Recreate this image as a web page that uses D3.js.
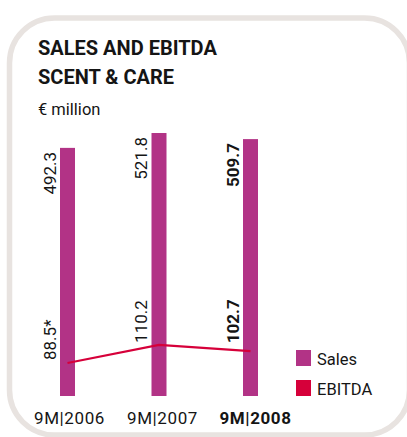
<html>
<head>
  <meta charset="UTF-8">
  <script src="https://d3js.org/d3.v7.min.js"></script>
  <style>
    body { margin: 0; background: white; }
    text { font-family: Roboto, "Liberation Sans", sans-serif; fill: #151515; }
  </style>
</head>
<body>
<svg id="chart"></svg>
<script>
  // data
  let periods = ["9M|2006", "9M|2007", "9M|2008"];
  let sales = [492.3, 521.8, 509.7];
  let ebitda = [88.5, 110.2, 102.7];
  let ebitdaLabels = ["88.5*", "110.2", "102.7"];
  let legendItems = ["Sales", "EBITDA"];

  let width = 407;
  let height = 437;
  let salesColor = "#b23386";
  let ebitdaColor = "#d6003a";

  let svg = d3.select("#chart")
              .attr("width", width)
              .attr("height", height);

  // rounded frame
  svg.append("rect")
     .attr("x", 9.5).attr("y", 18)
     .attr("width", 400).attr("height", 417)
     .attr("rx", 45).attr("ry", 45)
     .attr("fill", "white")
     .attr("stroke", "#e8e3e0")
     .attr("stroke-width", 5.5);

  // titles
  svg.append("text").attr("x", 38).attr("y", 55)
     .style("font-size", "20px").style("font-weight", "bold")
     .text("SALES AND EBITDA");
  svg.append("text").attr("x", 38).attr("y", 84)
     .style("font-size", "20px").style("font-weight", "bold")
     .text("SCENT & CARE");
  svg.append("text").attr("x", 38).attr("y", 115)
     .style("font-size", "16.5px")
     .text("€ million");

  let xScale = d3.scalePoint().domain(periods).range([67.5, 250.5]);
  let barW = 15;
  let ySales = d3.scaleLinear().domain([0, 600]).range([396, 93.6]);
  let yEbitda = d3.scaleLinear().domain([0, 120]).range([436.9, 336.7]);

  let rows = periods.map((p, i) => ({ p: p, s: sales[i], e: ebitda[i], lab: ebitdaLabels[i], last: i === periods.length - 1, i: i }));

  svg.selectAll("rect.bar").data(rows)
     .join("rect")
     .attr("class", "bar")
     .attr("x", d => xScale(d.p) - barW / 2)
     .attr("y", d => ySales(d.s))
     .attr("width", barW)
     .attr("height", d => ySales(0) - ySales(d.s))
     .attr("fill", salesColor);

  let line = d3.line().x(d => xScale(d.p)).y(d => yEbitda(d.e));
  svg.append("path").datum(rows)
     .attr("d", line)
     .attr("fill", "none")
     .attr("stroke", ebitdaColor)
     .attr("stroke-width", 2.2);

  // sales value labels, rotated
  svg.selectAll("text.sv").data(rows)
     .join("text")
     .attr("class", "sv")
     .attr("transform", d => `translate(${xScale(d.p) - barW / 2 - 4.5},${ySales(d.s) + 4}) rotate(-90)`)
     .attr("text-anchor", "end")
     .style("font-size", "17px")
     .style("font-weight", d => d.last ? "bold" : "normal")
     .text(d => d3.format(".1f")(d.s));

  // ebitda value labels
  let gap = [3, 2, 8];
  svg.selectAll("text.ev").data(rows)
     .join("text")
     .attr("class", "ev")
     .attr("transform", d => `translate(${xScale(d.p) - barW / 2 - 4.5},${yEbitda(d.e) - gap[d.i]}) rotate(-90)`)
     .attr("text-anchor", "start")
     .style("font-size", "17px")
     .style("font-weight", d => d.last ? "bold" : "normal")
     .text(d => d.lab);

  // period labels
  svg.selectAll("text.period").data(rows)
     .join("text")
     .attr("class", "period")
     .attr("x", d => xScale(d.p) + 2 + d.i * 1.5)
     .attr("y", 424)
     .attr("text-anchor", "middle")
     .style("font-size", "17px")
     .style("letter-spacing", "0.6px")
     .style("font-weight", d => d.last ? "bold" : "normal")
     .text(d => d.p);

  // legend
  let legColors = d3.scaleOrdinal().domain(legendItems).range([salesColor, ebitdaColor]);
  let leg = svg.selectAll("g.leg").data(legendItems)
               .join("g")
               .attr("class", "leg")
               .attr("transform", (d, i) => `translate(296,${350 + i * 30})`);
  leg.append("rect").attr("width", 15).attr("height", 16).attr("fill", d => legColors(d));
  leg.append("text").attr("x", 21).attr("y", 15)
     .style("font-size", "16.5px")
     .text(d => d);
</script>
</body>
</html>
